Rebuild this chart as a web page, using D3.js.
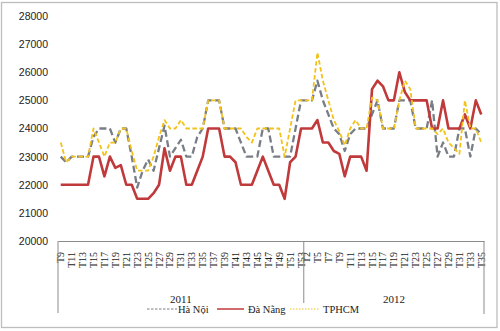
<!DOCTYPE html>
<html>
<head>
<meta charset="utf-8">
<script src="https://cdn.jsdelivr.net/npm/d3@7"></script>
<style>
  html, body { margin: 0; padding: 0; background: #fff; }
  svg { display: block; }
</style>
</head>
<body>
<svg id="chart" width="500" height="331"></svg>
<script>
// Weekly categories (T = tuần)
const weeks2011 = ["T9","T10","T11","T12","T13","T14","T15","T16","T17","T18","T19","T20","T21","T22","T23",
  "T24","T25","T26","T27","T28","T29","T30","T31","T32","T33","T34","T35","T36","T37","T38","T39","T40",
  "T41","T42","T43","T44","T45","T46","T47","T48","T49","T50","T51","T52","T53"];
const weeks2012 = ["T2","T3","T5","T6","T7","T8","T9","T10","T11","T12","T13","T14","T15","T16","T17","T18",
  "T19","T20","T21","T22","T23","T24","T25","T26","T27","T28","T29","T30","T31","T32","T33","T34","T35"];
const years = ["2011", "2012"];
const yTicks = [20000, 21000, 22000, 23000, 24000, 25000, 26000, 27000, 28000];

// Prices per week, 2011 weeks followed by 2012 weeks
const haNoi = [
  23000,22800,23000,23000,23000,23000,23700,24000,24000,24000,23500,24000,24000,23000,21900,22500,
  22900,22500,23300,24100,23000,23300,23600,23000,23000,23700,24000,25000,25000,25000,24000,24000,
  24000,23500,23000,23000,23000,24000,24000,23000,23000,23000,23000,24000,25000,
  25000,25000,25700,25000,24500,24000,23800,23200,23800,24000,24000,24000,24500,25000,24000,24000,
  24000,25000,25000,25000,24000,24000,24000,25000,23000,23500,23000,23000,24000,24000,23000,24000,23800
];
const daNang = [
  22000,22000,22000,22000,22000,22000,23000,23000,22300,23000,22600,22700,22000,22000,21500,21500,
  21500,21700,22000,23300,22500,23000,23000,22000,22000,22500,23000,24000,24000,24000,23000,23000,
  22800,22000,22000,22000,22500,23000,22500,22000,22000,21500,22800,23000,24000,
  24000,24000,24300,23500,23500,23200,23100,22300,23000,23000,23000,22500,25400,25700,25500,25000,
  25000,26000,25300,25000,25000,25000,25000,24000,24000,25000,24000,24000,24000,24500,24000,25000,24500
];
const tpHCM = [
  23500,22800,23000,23000,23000,23000,24000,23500,23000,23500,23500,24000,24000,23200,22500,22500,
  22500,23000,23700,24300,24000,24000,24300,24000,24000,24000,24000,25000,25000,25000,24000,24000,
  24000,24000,23700,23500,24000,24000,24000,24000,24000,23000,24000,25000,25000,
  25000,25000,26700,25700,25000,24300,23900,23400,24000,24300,24000,24000,25100,25000,24000,24000,
  24000,25000,25700,25400,24000,24000,24000,24000,23800,24000,23500,23300,23100,25000,24000,24000,23500
];

const seriesNames = ["Hà Nội", "Đà Nẵng", "TPHCM"];
const seriesValues = [haNoi, daNang, tpHCM];

// Category keys combine year and week so the week labels can repeat
const keys = weeks2011.map(w => "2011-" + w).concat(weeks2012.map(w => "2012-" + w));
const weekOf = k => k.split("-")[1];

const styles = [
  { color: "#787d86", width: 2.3, dash: "7,3.5", legendDash: "2.5,1.5", legendWidth: 1 },
  { color: "#c0393b", width: 2.6, dash: null, legendDash: null, legendWidth: 1.5 },
  { color: "#f2c21a", width: 1.8, dash: "4.5,2.5", legendDash: "1.5,1.5", legendWidth: 1.2 }
];

const svg = d3.select("#chart");

// Outer chart frame
svg.append("rect")
  .attr("x", 1.5).attr("y", 2.5).attr("width", 495.5).attr("height", 325)
  .attr("fill", "#fff").attr("stroke", "#bdbdbd").attr("stroke-width", 1.3);

const plot = { left: 58, right: 484, top: 16, bottom: 241 };

const x = d3.scaleBand().domain(keys).range([plot.left, plot.right]).padding(0);
const cx = k => x(k) + x.bandwidth() / 2;
const y = d3.scaleLinear().domain([20000, 28000]).range([plot.bottom, plot.top]);

// Value axis: labels only
const yAxis = svg.append("g")
  .attr("transform", `translate(${plot.left},0)`)
  .call(d3.axisLeft(y).tickValues(yTicks).tickSize(0).tickPadding(10).tickFormat(d3.format("d")));
yAxis.select(".domain").remove();
yAxis.selectAll("text")
  .attr("font-family", "'Liberation Sans Narrow', 'Arial Narrow', 'Liberation Sans', sans-serif")
  .attr("font-size", 10.5)
  .attr("fill", "#222");

// Category axis: every other week label, rotated
const labelKeys = keys.filter((k, i) => (i < weeks2011.length ? i : i - weeks2011.length) % 2 === 0);
const xAxis = svg.append("g")
  .attr("transform", `translate(0,${plot.bottom})`)
  .call(d3.axisBottom(x).tickValues(labelKeys).tickSize(0).tickFormat(weekOf));
xAxis.select(".domain").attr("stroke", "#8c8c8c").attr("stroke-width", 1);
xAxis.selectAll("text")
  .attr("font-family", "'Liberation Serif', 'Times New Roman', serif")
  .attr("font-size", 10)
  .attr("fill", "#222")
  .attr("text-anchor", "end")
  .attr("transform", "rotate(-90)")
  .attr("x", -11)
  .attr("y", 0)
  .attr("dy", "0.35em");

// Group separators of the two-level category axis
const sepX = x(keys[weeks2011.length]);
const axisLines = [
  { x: plot.left, y2: 313 },
  { x: sepX, y2: 303 },
  { x: plot.right, y2: 314 }
];
svg.append("g").selectAll("line").data(axisLines).join("line")
  .attr("x1", d => d.x).attr("x2", d => d.x)
  .attr("y1", plot.bottom).attr("y2", d => d.y2)
  .attr("stroke", "#8c8c8c").attr("stroke-width", 1);

// Year labels centred on each group
const yearSpans = [[plot.left, sepX], [sepX, plot.right]];
svg.append("g").selectAll("text").data(years).join("text")
  .attr("x", (d, i) => (yearSpans[i][0] + yearSpans[i][1]) / 2)
  .attr("y", 303)
  .attr("text-anchor", "middle")
  .attr("font-family", "'Liberation Serif', 'Times New Roman', serif")
  .attr("font-size", 11)
  .attr("fill", "#222")
  .text(d => d);

// Series lines
const line = d3.line()
  .x((d, i) => cx(keys[i]))
  .y(d => y(d));

svg.append("g").selectAll("path").data(seriesValues).join("path")
  .attr("d", d => line(d))
  .attr("fill", "none")
  .attr("stroke", (d, i) => styles[i].color)
  .attr("stroke-width", (d, i) => styles[i].width)
  .attr("stroke-dasharray", (d, i) => styles[i].dash)
  .attr("stroke-linejoin", "round");

// Legend
const legendItems = [
  { x1: 147, x2: 177, tx: 178 },
  { x1: 217, x2: 244, tx: 248 },
  { x1: 290, x2: 320, tx: 323 }
];
const legend = svg.append("g").selectAll("g").data(seriesNames).join("g");
legend.append("line")
  .attr("x1", (d, i) => legendItems[i].x1).attr("x2", (d, i) => legendItems[i].x2)
  .attr("y1", 309).attr("y2", 309)
  .attr("stroke", (d, i) => styles[i].color)
  .attr("stroke-width", (d, i) => styles[i].legendWidth)
  .attr("stroke-dasharray", (d, i) => styles[i].legendDash);
legend.append("text")
  .attr("x", (d, i) => legendItems[i].tx)
  .attr("y", 313)
  .attr("font-family", "'Liberation Serif', 'Times New Roman', serif")
  .attr("font-size", 10.5)
  .attr("fill", "#222")
  .text(d => d);
</script>
</body>
</html>
